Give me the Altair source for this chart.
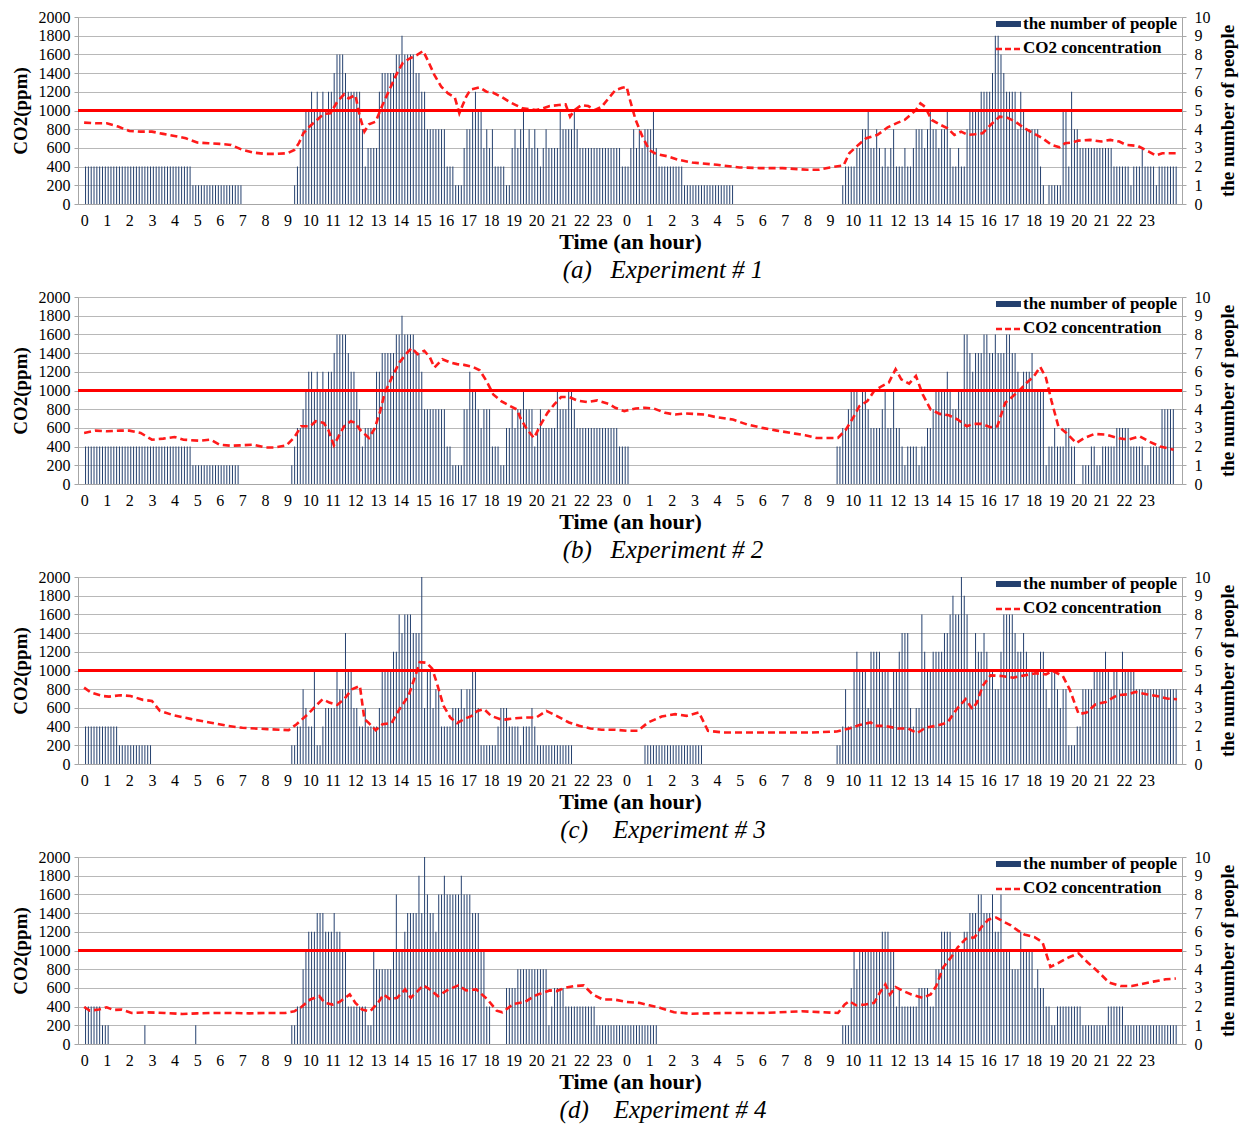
import altair as alt
import pandas as pd

FONT = "'Liberation Serif', 'Times New Roman', 'DejaVu Serif', serif"
SLOTS_PER_HOUR = 8
Z = "00000000"
HOUR_TICKS = list(range(48))
THRESHOLD = 1000

# number of people, one string per hour (8 samples per hour), 'A' = 10
PEOPLE_A = ["22222222", "22222222", "22222222", "22222222", "22222211", "11111111",
            "11111111", Z, Z, "00123455", "65656566", "78887666", "66423333", "67777788",
            "98888776", "64444444", "22211134", "45655343", "42222113", "43453434",
            "32343333", "54444543", "33333333", "33333322",
            "23434344", "45322222", "22221111", "11111111", "11111100", Z, Z, Z, Z,
            "00001222", "23344533", "43232342", "22322344", "43454434", "45322322",
            "45555666", "67998766", "66465444", "44210111", "11552644", "33333333",
            "33332222", "22122232", "22212222", "222"]
PEOPLE_B = ["22222222", "22222222", "22222222", "22222222", "22222211", "11111111",
            "11111110", Z, Z, "01233456", "65656566", "78888766", "54233336", "67777788",
            "98888776", "44444444", "22111144", "65543444", "22211334", "34454442",
            "34333335", "44455433", "33333333", "33333222",
            "20000000", Z, Z, Z, Z, Z, Z, Z, Z,
            "00223345", "55455433", "33453353", "32122221", "22334555", "56544558",
            "87677788", "77877788", "77656667", "55551223", "22233220", "01112211",
            "22222333", "33222221", "12222444", "44"]
PEOPLE_C = ["22222222", "22221111", "11111111", Z, Z, Z, Z, Z, Z,
            "01122432", "25112333", "35447553", "32232222", "35555668", "7888777A",
            "35534422", "22333434", "45531111", "11233322", "22122232", "11111111",
            "11111000", Z, Z,
            "00000011", "11111111", "11111111", "11100000", Z, Z, Z, Z, Z,
            "00112422", "56555366", "66555355", "67773233", "86556666", "778988A9",
            "85576676", "55446888", "87667655", "55664355", "43441112", "24444555",
            "56545546", "55554444", "44444444", "444"]
PEOPLE_D = ["22222211", "10000000", "00000100", Z, "00000001", Z, Z, Z, Z,
            "01122456", "66777666", "76655222", "22221154", "44444585", "56777797",
            "A8776889", "88888988", "87775522", "00000333", "34444444", "44441233",
            "33222222", "22222111", "11111111",
            "11111111", "11100000", Z, Z, Z, Z, Z, Z, Z,
            "00001113", "54555555", "55666552", "32222223", "33322446", "66655556",
            "67778877", "78668555", "44465555", "34332211", "22222222", "21111111",
            "11222222", "11111111", "11111111", "111"]

# CO2 concentration (ppm) at hour positions (0-48 over two days)
CO2_A_T = [0, 0.5, 1, 1.5, 2, 2.5, 3, 3.5, 4, 4.5, 5, 5.5, 6, 6.5, 7, 7.5, 8, 8.5, 9, 9.3,
           9.5, 9.7, 10, 10.3, 10.6, 10.9, 11.2, 11.5, 11.7, 12, 12.2, 12.4, 12.6, 12.9,
           13.2, 13.5, 13.8, 14.1, 14.4, 14.7, 15, 15.2, 15.5, 15.8, 16.1, 16.4, 16.6,
           16.9, 17.1, 17.5, 17.8, 18.1, 18.5, 18.8, 19.1, 19.4, 19.7, 20, 20.3, 20.6,
           21, 21.3, 21.5, 21.7, 22, 22.3, 22.6, 22.9, 23.2, 23.5, 23.8,
           24.0, 24.15, 24.4, 24.7, 25.0, 25.3, 25.85, 26.3, 26.9, 28.0, 29.0, 29.9, 30.9,
           32.0, 32.5, 33.0, 33.6, 33.85, 34.25, 34.6, 35.1, 35.55, 36.0, 36.3, 36.8,
           37.0, 37.2, 37.5, 37.9, 38.2, 38.5, 38.8, 39.1, 39.4, 39.75, 40.1, 40.5,
           40.8, 41.2, 41.6, 42.0, 42.4, 42.8, 43.15, 43.4, 43.7, 44.0, 44.5, 45.0,
           45.4, 45.8, 46.1, 46.6, 47.1, 47.4, 47.7, 48.3]
CO2_A_V = [870, 863, 863, 828, 781, 774, 774, 750, 728, 703, 657, 650, 643, 632, 579, 550,
           536, 536, 543, 579, 650, 757, 835, 899, 963, 970, 1094, 1172, 1130, 1165, 934,
           774, 852, 881, 1058, 1218, 1378, 1510, 1556, 1591, 1637, 1538, 1378, 1254,
           1183, 1140, 970, 1147, 1225, 1247, 1201, 1190, 1140, 1094, 1058, 1023, 1016,
           1005, 1023, 1048, 1058, 1066, 934, 1005, 1058, 1048, 1005, 1040, 1130, 1218,
           1243,
           1254, 1112, 899, 721, 579, 536, 508, 472, 444, 419, 391, 384, 384, 366, 366,
           391, 412, 543, 632, 703, 739, 820, 870, 899, 1005, 1076, 1040, 899, 845, 810,
           739, 774, 739, 746, 757, 845, 934, 927, 881, 810, 757, 703, 632, 607, 650,
           657, 678, 686, 668, 686, 668, 632, 622, 561, 519, 543, 543]

CO2_B_T = [0, 0.5, 1.0, 1.6, 2.0, 2.5, 3.0, 3.5, 4.0, 4.4, 5.1, 5.6, 6.0, 6.5, 6.9, 7.5,
           8.0, 8.45, 8.95, 9.3, 9.6, 10.0, 10.25, 10.6, 10.8, 11.05, 11.3, 11.5, 11.8,
           12.0, 12.2, 12.6, 12.85, 13.1, 13.3, 13.65, 13.95, 14.3, 14.5, 14.75, 15.05,
           15.3, 15.5, 15.85, 16.2, 16.5, 16.8, 17.2, 17.5, 17.8, 18.1, 18.45, 18.85,
           19.15, 19.3, 19.55, 19.9, 20.2, 20.5, 20.8, 21.1, 21.45, 21.8, 22.25, 22.7,
           23.2, 23.5, 23.9,
           24.0, 24.4, 24.8, 25.2, 25.7, 26.15, 26.6, 27.45, 27.9, 28.7, 29.35, 30.0,
           30.65, 31.45, 31.9, 32.4, 32.9, 33.35, 33.7, 34.0, 34.3, 34.65, 34.95, 35.3,
           35.6, 35.9, 36.15, 36.5, 36.8, 37.1, 37.45, 37.85, 38.25, 38.65, 39.05,
           39.35, 39.7, 40.1, 40.4, 40.75, 41.05, 41.35, 41.7, 42.0, 42.3, 42.55, 42.8,
           43.1, 43.45, 43.9, 44.25, 44.7, 45.2, 45.7, 46.2, 46.7, 47.1, 47.6, 48.2]
CO2_B_V = [546, 571, 564, 571, 571, 546, 474, 485, 503, 474, 463, 474, 420, 409, 413, 420,
           391, 391, 413, 499, 617, 617, 671, 653, 582, 413, 528, 617, 671, 653, 582, 492,
           592, 779, 976, 1156, 1300, 1407, 1454, 1389, 1425, 1353, 1246, 1335, 1300,
           1282, 1274, 1253, 1217, 1102, 958, 887, 833, 797, 707, 600, 492, 635, 761,
           851, 930, 930, 894, 876, 894, 858, 815, 779,
           786, 808, 815, 808, 761, 743, 754, 743, 718, 689, 635, 600, 571, 539, 521,
           492, 492, 492, 582, 700, 833, 887, 994, 1048, 1084, 1228, 1120, 1073, 1156,
           958, 797, 750, 736, 689, 617, 643, 643, 607, 617, 869, 930, 994, 1084, 1145,
           1253, 1138, 887, 617, 546, 438, 492, 535, 528, 492, 474, 510, 456, 402, 366]

CO2_C_T = [0, 0.3, 0.8, 1.1, 1.6, 2.05, 2.6, 3.0, 3.35, 3.95, 4.75, 5.55, 6.35, 7.0, 8.1,
           9.05, 9.4, 9.9, 10.25, 10.55, 10.85, 11.2, 11.5, 11.85, 12.2, 12.4, 12.6, 12.9,
           13.2, 13.6, 13.95, 14.35, 14.7, 14.85, 15.15, 15.4, 15.6, 15.9, 16.2, 16.5,
           16.8, 17.15, 17.4, 17.7, 18.0, 18.5, 19.0, 19.5, 20.0, 20.45, 20.9, 21.45,
           21.9, 22.4, 22.9, 23.5,
           24.0, 24.5, 24.95, 25.55, 26.15, 26.65, 27.2, 27.6, 28.3, 29.4, 30.9, 32.2,
           33.3, 33.85, 34.3, 34.8, 35.0, 35.4, 36.0, 36.45, 36.85, 37.25, 37.7, 38.2,
           38.6, 39.0, 39.3, 39.5, 39.75, 40.1, 40.6, 41.1, 41.6, 42.1, 42.55, 42.85,
           43.3, 43.6, 44.0, 44.35, 44.75, 45.2, 45.7, 46.2, 46.5, 47.0, 47.45, 47.9,
           48.35]
CO2_C_V = [817, 764, 728, 721, 735, 728, 686, 675, 568, 522, 480, 444, 408, 387, 373, 362,
           426, 533, 622, 693, 657, 632, 693, 799, 835, 480, 437, 362, 426, 437, 586, 728,
           977, 1090, 1083, 1019, 870, 622, 497, 437, 480, 515, 568, 586, 515, 472, 487,
           497, 497, 568, 515, 444, 408, 380, 366, 366,
           355, 355, 444, 508, 533, 515, 551, 355, 337, 337, 337, 337, 348, 380, 416,
           444, 408, 408, 380, 380, 330, 391, 408, 444, 586, 693, 586, 657, 835, 948,
           941, 923, 948, 970, 959, 995, 941, 799, 533, 551, 639, 664, 735, 746, 771,
           746, 728, 700, 693]

CO2_D_T = [0, 0.25, 0.65, 1.0, 1.3, 1.65, 2.1, 2.75, 3.55, 4.35, 5.0, 5.75, 6.5, 7.3, 8.1,
           8.9, 9.3, 9.6, 10.0, 10.4, 10.65, 11.0, 11.3, 11.75, 12.0, 12.3, 12.65, 13.0,
           13.25, 13.55, 13.85, 14.2, 14.45, 14.75, 15.0, 15.25, 15.65, 16.05, 16.55,
           16.9, 17.35, 17.85, 18.25, 18.5, 19.0, 19.5, 20.0, 20.6, 20.9, 21.3, 21.7,
           22.1, 22.5, 22.95, 23.45,
           24.0, 24.55, 25.0, 25.5, 26.1, 26.9, 28.5, 30.15, 31.75, 33.35, 33.65, 33.85,
           34.15, 34.55, 34.95, 35.2, 35.45, 35.65, 35.9, 36.25, 36.6, 37.1, 37.45,
           37.7, 38.0, 38.35, 38.65, 39.0, 39.4, 39.7, 40.0, 40.35, 40.7, 41.0, 41.3,
           41.6, 42.05, 42.4, 42.75, 43.15, 43.55, 44.0, 44.4, 44.9, 45.35, 45.85,
           46.35, 46.85, 47.3, 47.85, 48.3]
CO2_D_V = [396, 357, 368, 393, 364, 368, 332, 339, 332, 321, 328, 332, 332, 328, 332, 332,
           350, 393, 476, 512, 440, 422, 450, 530, 440, 368, 350, 440, 530, 476, 494, 584,
           494, 566, 627, 591, 512, 573, 627, 573, 584, 476, 357, 339, 429, 450, 523, 573,
           566, 602, 620, 627, 530, 476, 476,
           450, 440, 414, 386, 339, 324, 332, 332, 350, 332, 422, 458, 414, 422, 440,
           548, 638, 530, 609, 566, 530, 494, 530, 620, 818, 926, 1034, 1124, 1142,
           1251, 1330, 1352, 1305, 1269, 1215, 1171, 1142, 1088, 825, 872, 926, 969,
           872, 764, 656, 620, 620, 645, 667, 692, 700]

CAPTIONS = ["(a)\u00a0\u00a0\u00a0Experiment # 1", "(b)\u00a0\u00a0\u00a0Experiment # 2",
            "(c)\u00a0\u00a0\u00a0\u00a0Experiment # 3", "(d)\u00a0\u00a0\u00a0\u00a0Experiment # 4"]
LEGEND_LABELS = ["the number of people", "CO2 concentration"]

W, H = 1104, 187
XDOM = [-0.05, 48.35]
BAR_COLOR = "#25416f"
GRID = "#b8b8b8"
AXIS_GRAY = "#a6a6a6"


def people_frame(strings):
    rows = []
    for h, s in enumerate(strings):
        for i, ch in enumerate(s):
            n = int(ch, 16)
            if n > 0:
                rows.append({"t": h + (i + 0.5) / SLOTS_PER_HOUR, "n": n})
    return pd.DataFrame(rows)


def panel(people, ct, cv, caption):
    pdf = people_frame(people)
    cdf = pd.DataFrame({"t": ct, "ppm": cv})
    x = alt.X("t:Q", scale=alt.Scale(domain=XDOM, nice=False, zero=False),
              axis=alt.Axis(values=HOUR_TICKS, labelExpr="datum.value % 24",
                            title="Time (an hour)", grid=False, ticks=False,
                            labelFont=FONT, labelFontSize=16, labelPadding=8,
                            labelColor="black", labelOverlap=False,
                            titleFont=FONT, titleFontSize=22, titleFontWeight="bold",
                            titleColor="black", titlePadding=3, domainColor=AXIS_GRAY))
    bars = alt.Chart(pdf).mark_bar(size=1.0, color=BAR_COLOR).encode(
        x=x,
        y=alt.Y("n:Q", scale=alt.Scale(domain=[0, 10], nice=False),
                axis=alt.Axis(orient="right", values=list(range(11)), format="d",
                              title="the number of people", titleAngle=270,
                              titleBaseline="top",
                              grid=False, labelFont=FONT, labelFontSize=16,
                              labelColor="black", tickSize=4, tickColor=AXIS_GRAY,
                              domainColor=AXIS_GRAY, labelPadding=8,
                              titleFont=FONT, titleFontSize=19, titleFontWeight="bold",
                              titleColor="black", titlePadding=8)))
    line = alt.Chart(cdf).mark_line(color="#ff1a1a", strokeDash=[7, 4], strokeWidth=2.6).encode(
        x=x,
        y=alt.Y("ppm:Q", scale=alt.Scale(domain=[0, 2000], nice=False),
                axis=alt.Axis(orient="left", values=list(range(0, 2001, 200)), format="d",
                              title="CO2(ppm)", grid=True, gridColor=GRID, gridWidth=1,
                              labelFont=FONT, labelFontSize=16, labelColor="black",
                              tickSize=4, tickColor=AXIS_GRAY, domainColor=AXIS_GRAY,
                              labelPadding=4, titleFont=FONT, titleFontSize=19,
                              titleFontWeight="bold", titleColor="black",
                              titlePadding=8)))
    thr = alt.Chart(pd.DataFrame({"ppm": [THRESHOLD]})).mark_rule(
        color="#ff0000", strokeWidth=3.2).encode(
        y=alt.Y("ppm:Q", scale=alt.Scale(domain=[0, 2000], nice=False), axis=None))
    one = pd.DataFrame({"k": [0]})
    leg_bar = alt.Chart(one).mark_rect(color=BAR_COLOR).encode(
        x=alt.value(918), x2=alt.value(943), y=alt.value(4), y2=alt.value(10))
    leg_line = alt.Chart(one).mark_rule(color="#ff1a1a", strokeDash=[6, 3], strokeWidth=2.4).encode(
        x=alt.value(918), x2=alt.value(943), y=alt.value(32), y2=alt.value(32))
    leg_t1 = alt.Chart(one).mark_text(align="left", baseline="middle", font=FONT, fontSize=17,
                                      fontWeight="bold", color="black").encode(
        x=alt.value(945), y=alt.value(7), text=alt.value(LEGEND_LABELS[0]))
    leg_t2 = alt.Chart(one).mark_text(align="left", baseline="middle", font=FONT, fontSize=17,
                                      fontWeight="bold", color="black").encode(
        x=alt.value(945), y=alt.value(31), text=alt.value(LEGEND_LABELS[1]))
    return alt.layer(bars, line, thr, leg_bar, leg_line, leg_t1, leg_t2).resolve_scale(
        y="independent").properties(
        width=W, height=H,
        title=alt.TitleParams(text=caption, orient="bottom", font=FONT, fontSize=25,
                              fontStyle="italic", fontWeight="normal", color="black",
                              offset=6, anchor="middle", dx=33))


panels = [panel(PEOPLE_A, CO2_A_T, CO2_A_V, CAPTIONS[0]),
          panel(PEOPLE_B, CO2_B_T, CO2_B_V, CAPTIONS[1]),
          panel(PEOPLE_C, CO2_C_T, CO2_C_V, CAPTIONS[2]),
          panel(PEOPLE_D, CO2_D_T, CO2_D_V, CAPTIONS[3])]

chart = alt.vconcat(*panels, spacing=4).properties(
    padding={"left": 2, "top": 0, "right": 2, "bottom": 2}
).configure_view(stroke=None).configure(background="white")

chart.save("out.html", embed_options={"renderer": "svg", "actions": False})
